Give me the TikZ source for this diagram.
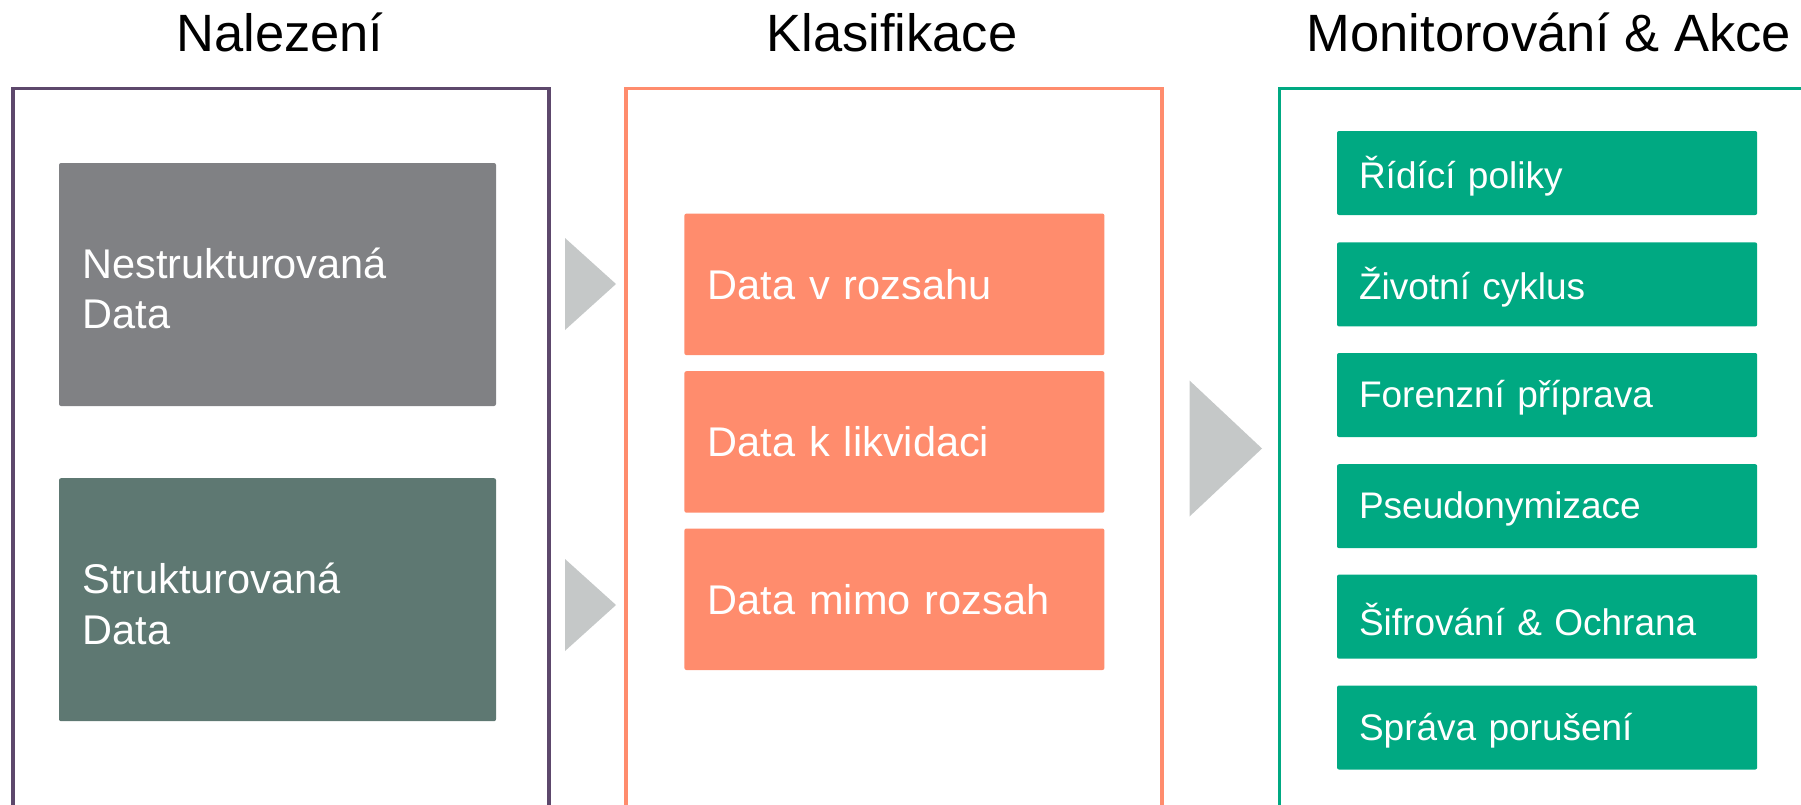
\documentclass[tikz,border=0pt]{standalone}
\usepackage{fontspec}
\setmainfont{Liberation Sans}
\definecolor{cpurple}{HTML}{5D486C}
\definecolor{cgray}{HTML}{808184}
\definecolor{cdark}{HTML}{5E7872}
\definecolor{corange}{HTML}{FF8C6D}
\definecolor{cgreen}{HTML}{00A982}
\definecolor{carrow}{HTML}{C5C8C8}
\newcommand{\lowertext}[2]{\raisebox{-#1}[\height][\depth]{#2}}
\begin{document}
\begin{tikzpicture}[x=1pt,y=-1pt,
  title/.style={font=\fontsize{52.5}{62}\selectfont, text=black, anchor=base, inner sep=0},
  frame/.style={line width=3.5pt},
  bigbox/.style={rounded corners=2pt, text=white, anchor=north west, align=left,
     inner xsep=23.5pt, inner ysep=0pt, font=\fontsize{41.5}{50.5}\selectfont},
  smallbox/.style={rounded corners=2pt, text=white, anchor=north west, align=left, fill=cgreen,
     inner xsep=22pt, inner ysep=0pt, font=\fontsize{37}{45}\selectfont,
     minimum width=420.2pt, text width=376.2pt, minimum height=84pt},
  chevron/.style={fill=carrow}]
\useasboundingbox (0,0) rectangle (1801,804);
\clip (0,0) rectangle (1801,804);

% titles
\node[title] (t1) at (280,51.7) {Nalezení};
\node[title] (t2) at (892,51.7) {Klasifikace};
\node[title] (t3) at (1549,51.7) {Monitorování \& Akce};

% frames
\draw[frame, draw=cpurple] (12.9,88.5) rectangle (549,840);
\draw[frame, draw=corange] (625.8,88.5) rectangle (1162,840);
\draw[frame, draw=cgreen] (1279.5,88.5) rectangle (1830,840);

% column 1
\node[bigbox, fill=cgray, minimum width=437pt, text width=390pt, minimum height=243pt] (n1) at (58.8,162.8) {\lowertext{4pt}{\parbox{390pt}{Nestrukturovaná\\Data}}};
\node[bigbox, fill=cdark, minimum width=437pt, text width=390pt, minimum height=243pt] (n2) at (58.8,478) {\lowertext{4pt}{\parbox{390pt}{Strukturovaná\\Data}}};

% chevrons
\fill[chevron] (565,238) -- (616,284) -- (565,330) -- cycle;
\fill[chevron] (565,559) -- (616,605) -- (565,651) -- cycle;
\fill[chevron] (1189.5,380.5) -- (1262,448.5) -- (1189.5,516.5) -- cycle;

% column 2
\node[bigbox, fill=corange, minimum width=420pt, text width=373pt, minimum height=141.5pt] (k1) at (684.2,213.4) {Data v rozsahu};
\node[bigbox, fill=corange, minimum width=420pt, text width=373pt, minimum height=141.5pt] (k2) at (684.2,371) {Data k likvidaci};
\node[bigbox, fill=corange, minimum width=420pt, text width=373pt, minimum height=141.5pt] (k3) at (684.2,528.3) {Data mimo rozsah};

% column 3
\node[smallbox] (m1) at (1336.8,130.8) {\lowertext{3pt}{Řídící poliky}};
\node[smallbox] (m2) at (1336.8,242.2) {\lowertext{3pt}{Životní cyklus}};
\node[smallbox] (m3) at (1336.8,352.8) {\lowertext{3pt}{Forenzní příprava}};
\node[smallbox] (m4) at (1336.8,464) {\lowertext{3pt}{Pseudonymizace}};
\node[smallbox] (m5) at (1336.8,574.4) {\lowertext{3pt}{Šifrování \& Ochrana}};
\node[smallbox] (m6) at (1336.8,685.3) {\lowertext{3pt}{Správa porušení}};
\end{tikzpicture}
\end{document}
